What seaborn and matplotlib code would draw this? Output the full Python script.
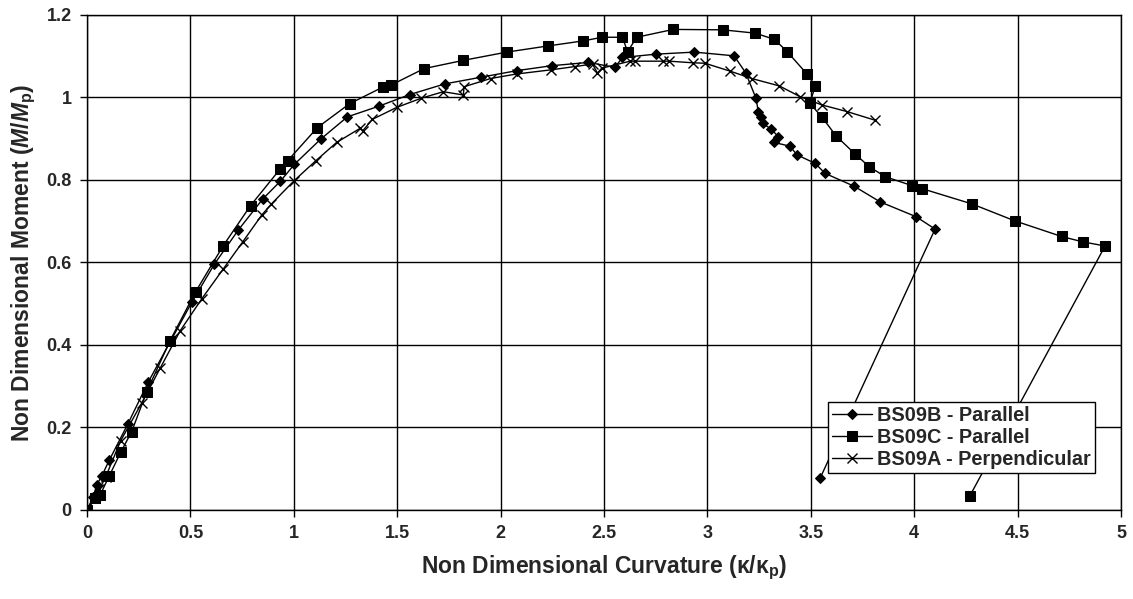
import matplotlib
matplotlib.use("Agg")
import matplotlib.pyplot as plt
import seaborn as sns
import numpy as np

# ---- data ----
b_x = [0, 0.030, 0.047, 0.071, 0.108, 0.197, 0.296, 0.506, 0.616, 0.732, 0.850, 0.935, 1.003,
       1.130, 1.259, 1.412, 1.560, 1.731, 1.904, 2.078, 2.247, 2.424, 2.553, 2.589, 2.751,
       2.937, 3.129, 3.185, 3.235, 3.246, 3.259, 3.269, 3.309, 3.343, 3.322, 3.399, 3.433,
       3.522, 3.569, 3.709, 3.835, 4.009, 4.101, 3.545]
b_y = [0, 0.032, 0.061, 0.082, 0.121, 0.208, 0.310, 0.503, 0.596, 0.679, 0.754, 0.797, 0.838,
       0.899, 0.953, 0.979, 1.007, 1.033, 1.049, 1.065, 1.077, 1.085, 1.073, 1.097, 1.105,
       1.110, 1.101, 1.060, 0.998, 0.966, 0.953, 0.937, 0.923, 0.905, 0.891, 0.882, 0.861,
       0.840, 0.816, 0.785, 0.747, 0.711, 0.681, 0.077]

c_x = [0, 0.039, 0.063, 0.108, 0.163, 0.216, 0.289, 0.401, 0.525, 0.659, 0.791, 0.933, 0.971,
       1.114, 1.270, 1.430, 1.470, 1.630, 1.820, 2.030, 2.230, 2.397, 2.492, 2.589, 2.614,
       2.658, 2.835, 3.074, 3.230, 3.324, 3.386, 3.483, 3.522, 3.495, 3.553, 3.622, 3.714,
       3.783, 3.860, 3.991, 4.038, 4.279, 4.486, 4.713, 4.815, 4.923, 4.269]
c_y = [0, 0.028, 0.036, 0.083, 0.140, 0.190, 0.287, 0.410, 0.529, 0.641, 0.738, 0.826, 0.847,
       0.927, 0.985, 1.025, 1.030, 1.070, 1.090, 1.110, 1.125, 1.137, 1.146, 1.146, 1.111,
       1.146, 1.165, 1.164, 1.156, 1.141, 1.111, 1.056, 1.028, 0.986, 0.953, 0.907, 0.863,
       0.832, 0.808, 0.786, 0.779, 0.742, 0.701, 0.663, 0.650, 0.640, 0.034]

a_x = [0, 0.040, 0.060, 0.090, 0.163, 0.264, 0.353, 0.450, 0.555, 0.657, 0.753, 0.845, 0.892,
       1.001, 1.105, 1.207, 1.320, 1.333, 1.380, 1.498, 1.615, 1.723, 1.820, 1.823, 1.952,
       2.078, 2.244, 2.360, 2.445, 2.468, 2.489, 2.626, 2.650, 2.787, 2.816, 2.932, 2.988,
       3.109, 3.214, 3.348, 3.448, 3.553, 3.674, 3.810]
a_y = [0, 0.030, 0.050, 0.080, 0.168, 0.259, 0.343, 0.434, 0.512, 0.583, 0.650, 0.715, 0.742,
       0.798, 0.846, 0.891, 0.925, 0.919, 0.947, 0.976, 0.998, 1.014, 1.006, 1.026, 1.046,
       1.057, 1.067, 1.075, 1.081, 1.059, 1.071, 1.088, 1.088, 1.088, 1.088, 1.084, 1.083,
       1.064, 1.046, 1.028, 1.002, 0.982, 0.966, 0.945]

series_labels = ["BS09B - Parallel", "BS09C - Parallel", "BS09A - Perpendicular"]
x_ticks = [0, 0.5, 1, 1.5, 2, 2.5, 3, 3.5, 4, 4.5, 5]
x_tick_labels = ["0", "0.5", "1", "1.5", "2", "2.5", "3", "3.5", "4", "4.5", "5"]
y_ticks = [0, 0.2, 0.4, 0.6, 0.8, 1.0, 1.2]
y_tick_labels = ["0", "0.2", "0.4", "0.6", "0.8", "1", "1.2"]

# ---- style ----
sns.set_style("white")
plt.rcParams["font.family"] = "Liberation Sans"
plt.rcParams["font.weight"] = "bold"
plt.rcParams["mathtext.fontset"] = "custom"
plt.rcParams["mathtext.rm"] = "Liberation Sans:bold"
plt.rcParams["mathtext.it"] = "Liberation Sans:italic:bold"
plt.rcParams["mathtext.bf"] = "Liberation Sans:bold"

FAM = "Liberation Sans"

fig = plt.figure(figsize=(11.33, 5.99), dpi=100)
ax = fig.add_axes([0.0768, 0.1486, 0.9126, 0.8264])

sns.lineplot(x=b_x, y=b_y, sort=False, estimator=None, ax=ax, color="black", lw=1,
             marker="D", markersize=5, markeredgecolor="black", label=series_labels[0])
sns.lineplot(x=c_x, y=c_y, sort=False, estimator=None, ax=ax, color="black", lw=1,
             marker="s", markersize=7, markeredgecolor="black", label=series_labels[1])
sns.lineplot(x=a_x, y=a_y, sort=False, estimator=None, ax=ax, color="black", lw=1,
             marker="x", markersize=7, markeredgewidth=1, markeredgecolor="black",
             label=series_labels[2])

ax.set_xlim(0, 5)
ax.set_ylim(0, 1.2)
ax.set_xticks(x_ticks)
ax.set_xticklabels(x_tick_labels, fontsize=13, fontweight="bold", family=FAM)
ax.set_yticks(y_ticks)
ax.set_yticklabels(y_tick_labels, fontsize=13, fontweight="bold", family=FAM)
ax.tick_params(axis="both", direction="out", length=5, width=1, color="black", pad=6)
ax.tick_params(axis="x", bottom=True)
ax.tick_params(axis="y", left=True)

ax.grid(True, color="black", lw=1)
ax.set_axisbelow(True)
for s in ax.spines.values():
    s.set_visible(True)
    s.set_color("black")
    s.set_linewidth(1)

ax.set_xlabel("Non Dimensional Curvature (κ/κ$_\\mathrm{p}$)", fontsize=16.5,
              fontweight="bold", family=FAM, labelpad=8)
ax.set_ylabel("Non Dimensional Moment ($M$/$M$$_\\mathrm{p}$)", fontsize=16.5,
              fontweight="bold", family=FAM, labelpad=6)

leg = ax.legend(loc="lower right", bbox_to_anchor=(0.975, 0.0747), frameon=True,
                fancybox=False, edgecolor="black", framealpha=1, borderpad=0.22,
                labelspacing=0.14, handlelength=2.0, handletextpad=0.25, borderaxespad=0,
                prop={"family": FAM, "weight": "bold", "size": 14.3})
leg.get_frame().set_linewidth(1)

fig.savefig("out.png", dpi=100, facecolor="white")
